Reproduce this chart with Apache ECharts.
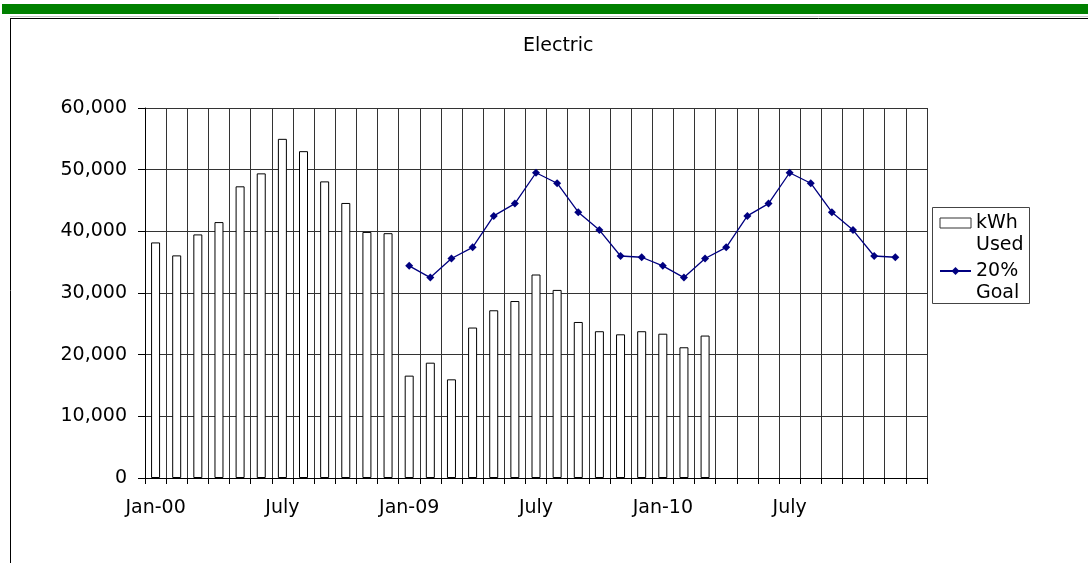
<!DOCTYPE html>
<html>
<head>
<meta charset="utf-8">
<script src="https://cdn.jsdelivr.net/npm/echarts@6/dist/echarts.min.js"></script>
<style>
html,body{margin:0;padding:0;background:#fff;}
#chart{width:1088px;height:563px;}
</style>
</head>
<body>
<div id="chart"></div>
<script>
// Category (month) labels: 2000, 2009, 2010, then one empty slot
const categories = [
  'Jan-00','Feb','Mar','Apr','May','Jun','July','Aug','Sep','Oct','Nov','Dec',
  'Jan-09','Feb','Mar','Apr','May','Jun','July','Aug','Sep','Oct','Nov','Dec',
  'Jan-10','Feb','Mar','Apr','May','Jun','July','Aug','Sep','Oct','Nov','Dec',
  ''
];
// kWh used
const kwhUsed = [
  38200, 36100, 39500, 41500, 47300, 49400, 55000, 53000, 48100, 44600, 39900, 39700,
  16600, 18700, 16000, 24400, 27200, 28700, 33000, 30500, 25300, 23800, 23300, 23800,
  23400, 21200, 23100, null, null, null, null, null, null, null, null, null,
  null
];
// 20% goal
const goal = [
  null, null, null, null, null, null, null, null, null, null, null, null,
  34400, 32500, 35600, 37400, 42500, 44500, 49500, 47800, 43100, 40200, 36000, 35800,
  34400, 32500, 35600, 37400, 42500, 44500, 49500, 47800, 43100, 40200, 36000, 35800,
  null
];
const seriesNames = ['kWh Used', '20% Goal'];
const titleText = 'Electric';

const FONT = 'DejaVu Sans';
const chart = echarts.init(document.getElementById('chart'), null, {renderer: 'canvas'});
const gridColor = '#333';

chart.setOption({
  backgroundColor: '#fff',
  animation: false,
  title: {
    text: titleText,
    left: 523, top: 37,
    padding: 0,
    textStyle: {fontFamily: FONT, fontSize: 19, fontWeight: 'normal', color: '#000'}
  },
  grid: {left: 145, right: 161, top: 108, bottom: 85, containLabel: false},
  legend: {
    orient: 'vertical',
    left: 939, top: 190,
    padding: 0,
    itemGap: -18,
    itemWidth: 31, itemHeight: 10,
    formatter: n => '\n' + n.replace(' ', '\n'),
    textStyle: {fontFamily: FONT, fontSize: 19, color: '#000', lineHeight: 22},
    data: [
      {name: seriesNames[0], icon: 'rect', itemStyle: {color: '#fff', borderColor: '#333', borderWidth: 1}},
      {name: seriesNames[1]}
    ]
  },
  xAxis: {
    type: 'category',
    data: categories,
    boundaryGap: true,
    axisLine: {show: true, lineStyle: {color: '#000', width: 1}},
    axisTick: {show: true, interval: 0, length: 6, lineStyle: {color: '#000'}},
    splitLine: {show: true, interval: 0, lineStyle: {color: gridColor, width: 1}},
    axisLabel: {interval: 5, margin: 21, fontFamily: FONT, fontSize: 19, color: '#000'}
  },
  yAxis: {
    type: 'value',
    min: 0, max: 60000, interval: 10000,
    axisLine: {show: true, lineStyle: {color: '#000', width: 1}},
    axisTick: {show: true, length: 7, lineStyle: {color: '#000'}},
    splitLine: {show: true, lineStyle: {color: gridColor, width: 1}},
    axisLabel: {
      margin: 18, fontFamily: FONT, fontSize: 19, color: '#000',
      formatter: v => v.toLocaleString('en-US')
    }
  },
  series: [
    {
      name: seriesNames[0],
      type: 'bar',
      data: kwhUsed,
      barWidth: 9,
      itemStyle: {color: '#fff', borderColor: '#000', borderWidth: 1}
    },
    {
      name: seriesNames[1],
      type: 'line',
      data: goal,
      symbol: 'diamond',
      symbolSize: 8,
      showSymbol: true,
      lineStyle: {color: '#000080', width: 1.3},
      itemStyle: {color: '#000080'}
    }
  ],
  graphic: [
    {type: 'rect', shape: {x: 2, y: 4, width: 1086, height: 10}, style: {fill: '#008000'}, silent: true},
    {type: 'line', shape: {x1: 10, y1: 16.5, x2: 1088, y2: 16.5}, style: {stroke: '#c8c8c8', lineWidth: 1}, silent: true},
    {type: 'line', shape: {x1: 10, y1: 18.5, x2: 1088, y2: 18.5}, style: {stroke: '#000', lineWidth: 1}, silent: true},
    {type: 'line', shape: {x1: 10.5, y1: 18, x2: 10.5, y2: 563}, style: {stroke: '#000', lineWidth: 1}, silent: true},
    {type: 'rect', shape: {x: 932.5, y: 207.5, width: 97, height: 96}, style: {fill: null, stroke: '#444', lineWidth: 1}, silent: true}
  ]
});
</script>
</body>
</html>
